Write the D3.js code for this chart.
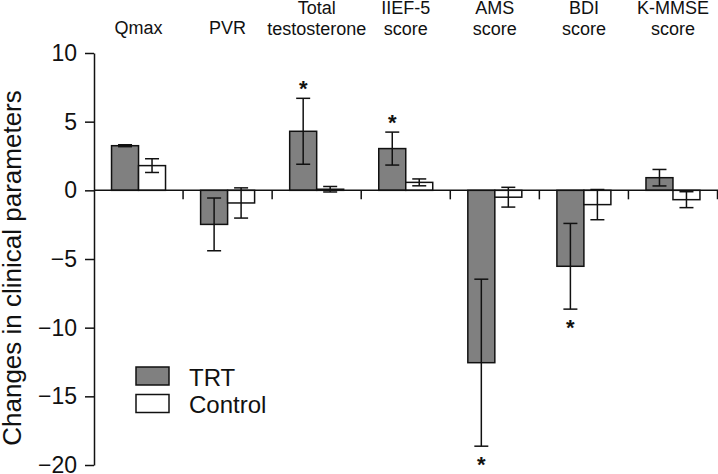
<!DOCTYPE html>
<html>
<head>
<meta charset="utf-8">
<script src="https://cdn.jsdelivr.net/npm/d3@7"></script>
<style>
  html, body { margin: 0; padding: 0; background: #fff; }
  svg { display: block; font-family: "Liberation Sans", Arial, Helvetica, sans-serif; }
</style>
</head>
<body>
<svg id="chart" width="718" height="474"></svg>
<script>
// ---- data ----
const categories = ["Qmax", "PVR", "Total testosterone", "IIEF-5 score", "AMS score", "BDI score", "K-MMSE score"];
const categoryLines = [["Qmax"], ["PVR"], ["Total", "testosterone"], ["IIEF-5", "score"], ["AMS", "score"], ["BDI", "score"], ["K-MMSE", "score"]];
const series = ["TRT", "Control"];
const trtMean = [3.25, -2.48, 4.3, 3.04, -12.55, -5.53, 0.92];
const trtErr  = [0.07, 1.92, 2.4, 1.2, 6.08, 3.12, 0.6];
const ctlMean = [1.8, -0.92, 0.08, 0.58, -0.5, -1.04, -0.68];
const ctlErr  = [0.5, 1.1, 0.2, 0.25, 0.72, 1.1, 0.58];
const significance = ["", "", "up", "up", "down", "down", ""];
const yTicks = [-20, -15, -10, -5, 0, 5, 10];
const yLabel = "Changes in clinical parameters";

// ---- layout ----
const svg = d3.select("#chart");
const x0 = d3.scaleBand().domain(categories).range([94, 717.5]).paddingInner(0).paddingOuter(0);
const x1 = d3.scaleBand().domain(series).range([0, x0.bandwidth()]).paddingInner(0).paddingOuter(0.65);
const y = d3.scaleLinear().domain([-20, 10]).range([465, 53]);
const fills = { TRT: "#808080", Control: "#ffffff" };

const rows = [];
categories.forEach((c, i) => {
  rows.push({ cat: c, s: "TRT", mean: trtMean[i], err: trtErr[i], sig: significance[i] });
  rows.push({ cat: c, s: "Control", mean: ctlMean[i], err: ctlErr[i], sig: "" });
});

// bars
svg.append("g").selectAll("rect").data(rows).join("rect")
  .attr("x", d => x0(d.cat) + x1(d.s))
  .attr("width", x1.bandwidth())
  .attr("y", d => y(Math.max(0, d.mean)))
  .attr("height", d => Math.abs(y(d.mean) - y(0)))
  .attr("fill", d => fills[d.s])
  .attr("stroke", "#111")
  .attr("stroke-width", 1.5);

// error bars
const capHalf = 7;
const eg = svg.append("g").attr("stroke", "#111").attr("stroke-width", 1.5);
rows.forEach(d => {
  const cx = x0(d.cat) + x1(d.s) + x1.bandwidth() / 2;
  const yt = y(d.mean + d.err), yb = y(d.mean - d.err);
  eg.append("line").attr("x1", cx).attr("x2", cx).attr("y1", yt).attr("y2", yb);
  eg.append("line").attr("x1", cx - capHalf).attr("x2", cx + capHalf).attr("y1", yt).attr("y2", yt);
  eg.append("line").attr("x1", cx - capHalf).attr("x2", cx + capHalf).attr("y1", yb).attr("y2", yb);
});

// significance stars
rows.filter(d => d.sig).forEach(d => {
  const cx = x0(d.cat) + x1(d.s) + x1.bandwidth() / 2;
  const yy = d.sig === "up" ? y(d.mean + d.err) - 2 : y(d.mean - d.err) + 26;
  svg.append("text").attr("x", cx).attr("y", yy)
    .attr("text-anchor", "middle").attr("font-size", 22).attr("font-weight", "bold")
    .attr("fill", "#111").text("*");
});

// y axis
const yAxis = d3.axisLeft(y).tickValues(yTicks).tickSize(9).tickSizeOuter(0).tickPadding(8)
  .tickFormat(d => d < 0 ? "\u2212" + Math.abs(d) : String(d));
const ya = svg.append("g").attr("transform", "translate(94,0)").call(yAxis);
ya.select(".domain").attr("stroke", "#111").attr("stroke-width", 1.5);
ya.selectAll(".tick line").attr("stroke", "#111").attr("stroke-width", 1.5);
ya.selectAll(".tick text").attr("font-size", 23).attr("fill", "#111")
  .attr("font-family", "'Liberation Sans', Arial, sans-serif");

// x axis (zero line) with category separators
const boundaries = categories.map(c => x0(c) + x0.bandwidth());
const xg = svg.append("g").attr("stroke", "#111").attr("stroke-width", 1.5);
xg.append("line").attr("x1", 94).attr("x2", 718).attr("y1", y(0)).attr("y2", y(0));
xg.selectAll("line.sep").data(boundaries).join("line").attr("class", "sep")
  .attr("x1", d => d).attr("x2", d => d).attr("y1", y(0)).attr("y2", y(0) + 9);

// category labels at top
categories.forEach((c, i) => {
  const lines = categoryLines[i];
  const cx = x0(c) + x0.bandwidth() / 2;
  const t = svg.append("text").attr("text-anchor", "middle").attr("font-size", 18).attr("fill", "#111");
  lines.forEach((ln, j) => {
    const base = lines.length === 1 ? 34 : 14 + j * 20.5;
    t.append("tspan").attr("x", cx).attr("y", base).text(ln);
  });
});

// y label
svg.append("text").attr("transform", "translate(21,268) rotate(-90)")
  .attr("text-anchor", "middle").attr("font-size", 26).attr("fill", "#111").text(yLabel);

// legend
const lg = svg.append("g");
series.forEach((s, i) => {
  lg.append("rect").attr("x", 136).attr("y", 367 + i * 27.5).attr("width", 33).attr("height", 18)
    .attr("fill", fills[s]).attr("stroke", "#111").attr("stroke-width", 1.5);
  lg.append("text").attr("x", 189).attr("y", 385.5 + i * 27.5).attr("font-size", 24).attr("fill", "#111").text(s);
});
</script>
</body>
</html>
